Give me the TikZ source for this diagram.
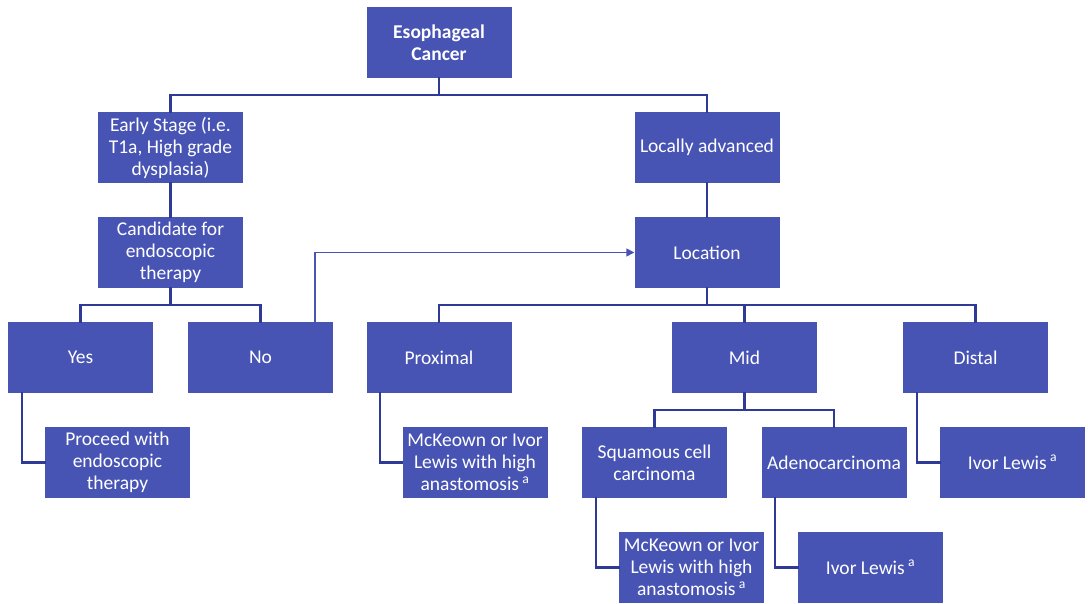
\documentclass[tikz,border=0pt]{standalone}
\usepackage{fontspec}
\setmainfont{Carlito}
\usetikzlibrary{arrows.meta}
\definecolor{boxblue}{RGB}{71,84,180}
\definecolor{linkblue}{RGB}{46,58,150}
\begin{document}
\begin{tikzpicture}[x=1pt,y=-1pt,
  box/.style={fill=boxblue,draw=none,minimum width=145pt,minimum height=71pt,inner sep=0pt,
    align=center,text=white,font=\fontsize{19.5}{22}\selectfont},
  link/.style={draw=linkblue,line width=2.2pt,line cap=rect},
  arr/.style={draw=boxblue,line width=1.5pt,-{Triangle[length=8pt,width=8pt]}}]
\useasboundingbox (0,0) rectangle (1088,604);
\fill[white] (0,0) rectangle (1088,604);
% nodes
\node[box,font=\fontsize{19.5}{22}\selectfont\bfseries] (eso) at (439,42.5) {Esophageal\\Cancer};
\node[box] (early) at (170.5,147.5) {Early Stage (i.e.\\T1a, High grade\\dysplasia)};
\node[box] (adv) at (707,147.5) {Locally advanced};
\node[box] (cand) at (170.5,252.5) {Candidate for\\endoscopic\\therapy};
\node[box] (loc) at (707,252.5) {Location};
\node[box] (yes) at (80.5,357.5) {Yes};
\node[box] (no) at (260.5,357.5) {No};
\node[box] (prox) at (439,357.5) {Proximal};
\node[box] (mid) at (744.5,357.5) {Mid};
\node[box] (dist) at (975.5,357.5) {Distal};
\node[box] (proc) at (117.5,462.5) {Proceed with\\endoscopic\\therapy};
\node[box] (mck1) at (475,462.5) {McKeown or Ivor\\Lewis with high\\anastomosis\,\textsuperscript{a}};
\node[box] (squ) at (654.5,462.5) {Squamous cell\\carcinoma};
\node[box] (ade) at (834,462.5) {Adenocarcinoma};
\node[box] (ivd) at (1012.5,462.5) {Ivor Lewis\,\textsuperscript{a}};
\node[box] (mck2) at (691.5,567.5) {McKeown or Ivor\\Lewis with high\\anastomosis\,\textsuperscript{a}};
\node[box] (iva) at (870.5,567.5) {Ivor Lewis\,\textsuperscript{a}};
% tree connectors
\draw[link] (eso.south) -- ++(0,17) -| (early.north);
\draw[link] (eso.south) -- ++(0,17) -| (adv.north);
\draw[link] (early.south) -- (cand.north);
\draw[link] (adv.south) -- (loc.north);
\draw[link] (cand.south) -- ++(0,17) -| (yes.north);
\draw[link] (cand.south) -- ++(0,17) -| (no.north);
\draw[link] (loc.south) -- ++(0,17) -| (prox.north);
\draw[link] (loc.south) -- ++(0,17) -| (mid.north);
\draw[link] (loc.south) -- ++(0,17) -| (dist.north);
\draw[link] (mid.south) -- ++(0,17) -| (squ.north);
\draw[link] (mid.south) -- ++(0,17) -| (ade.north);
% elbow connectors
\draw[link] ([xshift=14pt]yes.south west) |- (proc.west);
\draw[link] ([xshift=14pt]prox.south west) |- (mck1.west);
\draw[link] ([xshift=14pt]dist.south west) |- (ivd.west);
\draw[link] ([xshift=14pt]squ.south west) |- (mck2.west);
\draw[link] ([xshift=14pt]ade.south west) |- (iva.west);
% arrow from No to Location
\draw[arr] ([xshift=-18pt]no.north east) |- (loc.west);
\end{tikzpicture}
\end{document}
